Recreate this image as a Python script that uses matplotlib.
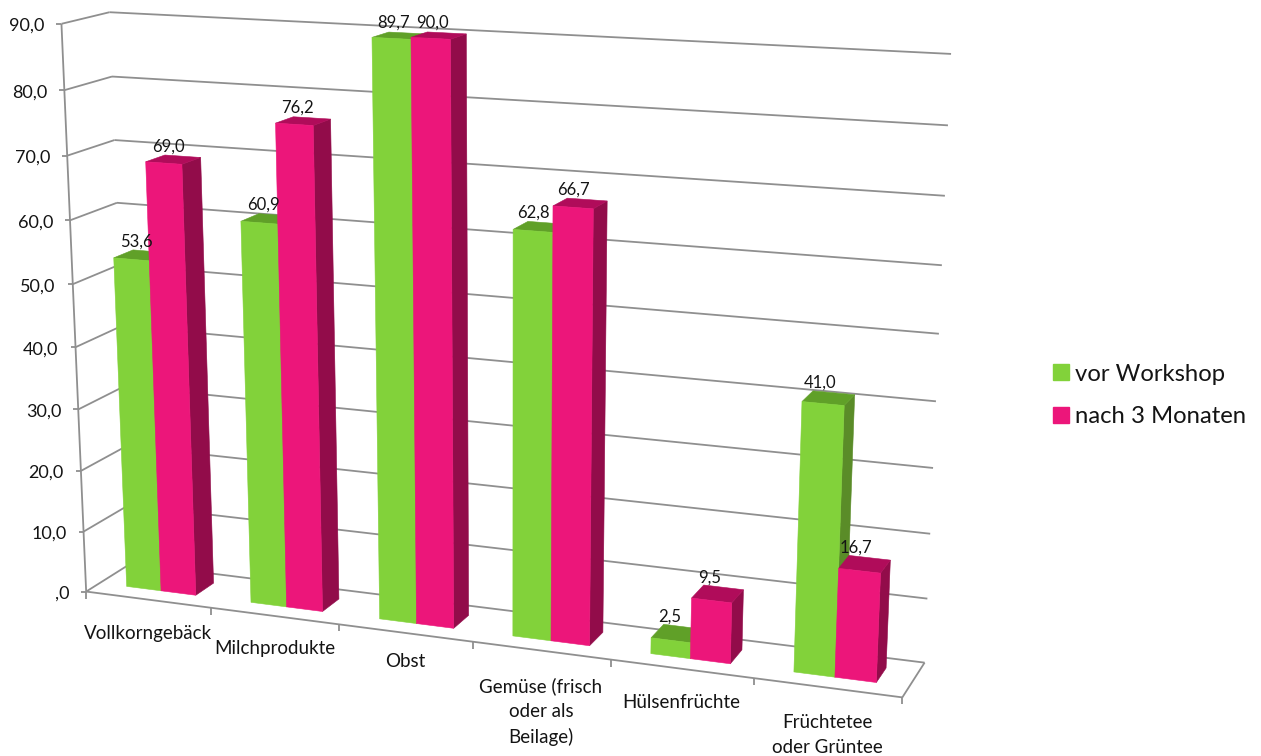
import numpy as np
import matplotlib
matplotlib.use("Agg")
import matplotlib.pyplot as plt
from matplotlib.patches import Patch

categories = ["Vollkorngebäck", "Milchprodukte", "Obst",
              "Gemüse (frisch\noder als\nBeilage)", "Hülsenfrüchte",
              "Früchtetee\noder Grüntee"]
vor_workshop = [53.6, 60.9, 89.7, 62.8, 2.5, 41.0]
nach_3_monaten = [69.0, 76.2, 90.0, 66.7, 9.5, 16.7]
series_names = ["vor Workshop", "nach 3 Monaten"]
y_ticks = [0, 10, 20, 30, 40, 50, 60, 70, 80, 90]
y_tick_labels = [",0", "10,0", "20,0", "30,0", "40,0", "50,0", "60,0", "70,0", "80,0", "90,0"]

plt.rcParams["font.family"] = ["Lato", "DejaVu Sans"]

n_cat = len(categories)
y_max = 90.0

# corners of the plot box on the canvas: (u, v, w) -> pixel
# u = across the categories, v = value axis, w = depth
box_corners = [
    ((0, 1, 0), (61, 25)),
    ((0, 0, 0), (86, 589)),
    ((0, 1, 1), (110, 11)),
    ((0, 0, 1), (131, 566)),
    ((1, 1, 1), (951, 54)),
    ((1, 0, 1), (924, 661)),
    ((1, 0, 0), (903, 699)),
]

# perspective matrix from the corners (least squares)
rows = []
rhs = []
for (u, v, w), (px, py) in box_corners:
    rows.append([u, v, w, 1, 0, 0, 0, 0, -px * u, -px * v, -px * w])
    rows.append([0, 0, 0, 0, u, v, w, 1, -py * u, -py * v, -py * w])
    rhs += [px, py]
sol = np.linalg.lstsq(np.array(rows, float), np.array(rhs, float), rcond=None)[0]
P = np.append(sol, 1.0).reshape(3, 4)


def project(cat, value, depth):
    """cat in category units, value in axis units, depth 0 (front) to 1 (back)"""
    q = P @ np.array([cat / n_cat, value / y_max, depth, 1.0])
    return q[0] / q[2], q[1] / q[2]


fig = plt.figure(figsize=(12.61, 7.56), dpi=100)
ax = fig.add_axes([0, 0, 1, 1])
ax.set_xlim(0, 1261)
ax.set_ylim(756, 0)
ax.axis("off")

line_col = "#8f8f8f"
text_col = "#141414"


def seg(p0, p1, lw=1.3, col=line_col):
    ax.plot([p0[0], p1[0]], [p0[1], p1[1]], color=col, lw=lw, solid_capstyle="butt", zorder=1)


# walls
for t, tick_text in zip(y_ticks, y_tick_labels):
    seg(project(0, t, 0), project(0, t, 1))
    seg(project(0, t, 1), project(n_cat, t, 1))
    x, y = project(0, t, 0)
    seg((x - 5, y), (x, y))
    ax.text(x - 17, y + 2, tick_text, ha="right", va="center", fontsize=13, color=text_col)

# value axis and floor edges
seg(project(0, 0, 0), project(0, y_max, 0))
seg(project(0, 0, 0), project(n_cat, 0, 0))
seg(project(n_cat, 0, 0), project(n_cat, 0, 1))
for k in range(n_cat + 1):
    x, y = project(k, 0, 0)
    seg((x, y), (x, y + 7))

# bars
colors = [
    {"front": "#82d23a", "top": "#60a028", "side": "#5a8c28"},
    {"front": "#ec167a", "top": "#b00c5a", "side": "#920c4a"},
]
bar_w = 0.28
gap = 0.22
w0, w1 = 0.30, 0.72
label_dy = [34, 33, 29, 35, 34, 35]

for k in range(n_cat):
    for s, vals in enumerate([vor_workshop, nach_3_monaten]):
        val = vals[k]
        a = k + gap + s * bar_w
        b = a + bar_w
        c = colors[s]
        side = [project(b, 0, w0), project(b, 0, w1), project(b, val, w1), project(b, val, w0)]
        top = [project(a, val, w0), project(b, val, w0), project(b, val, w1), project(a, val, w1)]
        front = [project(a, 0, w0), project(b, 0, w0), project(b, val, w0), project(a, val, w0)]
        for poly, col in [(side, c["side"]), (top, c["top"]), (front, c["front"])]:
            ax.fill(*zip(*poly), facecolor=col, edgecolor=col, lw=0.4, zorder=3)

# value labels stay above every bar
for k in range(n_cat):
    for s, vals in enumerate([vor_workshop, nach_3_monaten]):
        val = vals[k]
        x, y = project(k + gap + (s + 0.5) * bar_w, val, w1)
        ax.text(x - 14, y - 10, f"{val:.1f}".replace(".", ","), ha="center", va="center",
                fontsize=12, color=text_col, zorder=5)

# category labels
for k, name in enumerate(categories):
    x, y = project(k + 0.5, 0, 0)
    ax.text(x, y + label_dy[k] - 8.5, name, ha="center", va="top", fontsize=13.5,
            color=text_col, linespacing=1.55, zorder=5)

handles = [Patch(facecolor=colors[i]["front"], edgecolor=colors[i]["front"], label=series_names[i])
           for i in range(2)]
ax.legend(handles=handles, loc="upper left", bbox_to_anchor=(1036, 347), bbox_transform=ax.transData,
          frameon=False, fontsize=17.2, handlelength=0.67, handleheight=0.67, handletextpad=0.25,
          labelspacing=0.9, borderpad=0.2, labelcolor=text_col)

fig.savefig("out.png", dpi=100)
